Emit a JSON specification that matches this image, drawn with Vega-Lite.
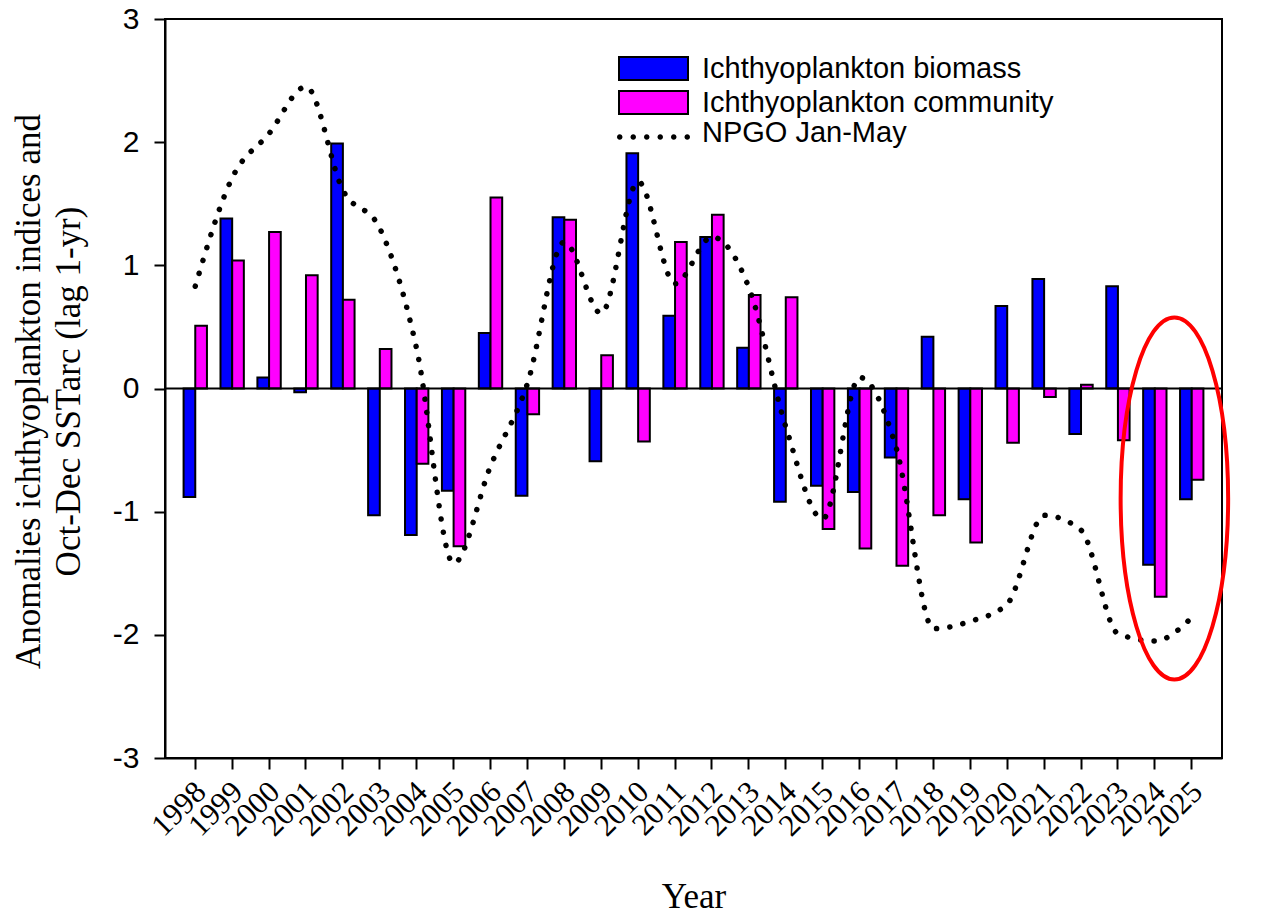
{
  "$schema": "https://vega.github.io/schema/vega-lite/v6.json",
  "width": 1057,
  "height": 739,
  "autosize": {"type": "none"},
  "padding": {"left": 165, "top": 19, "right": 60, "bottom": 165},
  "background": "white",
  "config": {
    "view": {"stroke": "black", "strokeWidth": 2},
    "axis": {"domainColor": "black", "tickColor": "black", "domainWidth": 2, "tickWidth": 2, "tickSize": 11, "labelColor": "black", "titleColor": "black", "grid": false},
    "legend": {"labelFont": "Liberation Sans", "labelFontSize": 29, "labelColor": "black", "labelLimit": 600}
  },
  "datasets": {
    "bars": [
      {"year": 1998, "series": "Ichthyoplankton biomass", "value": -0.88}, {"year": 1998, "series": "Ichthyoplankton community", "value": 0.51},
      {"year": 1999, "series": "Ichthyoplankton biomass", "value": 1.38}, {"year": 1999, "series": "Ichthyoplankton community", "value": 1.04},
      {"year": 2000, "series": "Ichthyoplankton biomass", "value": 0.09}, {"year": 2000, "series": "Ichthyoplankton community", "value": 1.27},
      {"year": 2001, "series": "Ichthyoplankton biomass", "value": -0.03}, {"year": 2001, "series": "Ichthyoplankton community", "value": 0.92},
      {"year": 2002, "series": "Ichthyoplankton biomass", "value": 1.99}, {"year": 2002, "series": "Ichthyoplankton community", "value": 0.72},
      {"year": 2003, "series": "Ichthyoplankton biomass", "value": -1.03}, {"year": 2003, "series": "Ichthyoplankton community", "value": 0.32},
      {"year": 2004, "series": "Ichthyoplankton biomass", "value": -1.19}, {"year": 2004, "series": "Ichthyoplankton community", "value": -0.61},
      {"year": 2005, "series": "Ichthyoplankton biomass", "value": -0.83}, {"year": 2005, "series": "Ichthyoplankton community", "value": -1.28},
      {"year": 2006, "series": "Ichthyoplankton biomass", "value": 0.45}, {"year": 2006, "series": "Ichthyoplankton community", "value": 1.55},
      {"year": 2007, "series": "Ichthyoplankton biomass", "value": -0.87}, {"year": 2007, "series": "Ichthyoplankton community", "value": -0.21},
      {"year": 2008, "series": "Ichthyoplankton biomass", "value": 1.39}, {"year": 2008, "series": "Ichthyoplankton community", "value": 1.37},
      {"year": 2009, "series": "Ichthyoplankton biomass", "value": -0.59}, {"year": 2009, "series": "Ichthyoplankton community", "value": 0.27},
      {"year": 2010, "series": "Ichthyoplankton biomass", "value": 1.91}, {"year": 2010, "series": "Ichthyoplankton community", "value": -0.43},
      {"year": 2011, "series": "Ichthyoplankton biomass", "value": 0.59}, {"year": 2011, "series": "Ichthyoplankton community", "value": 1.19},
      {"year": 2012, "series": "Ichthyoplankton biomass", "value": 1.23}, {"year": 2012, "series": "Ichthyoplankton community", "value": 1.41},
      {"year": 2013, "series": "Ichthyoplankton biomass", "value": 0.33}, {"year": 2013, "series": "Ichthyoplankton community", "value": 0.76},
      {"year": 2014, "series": "Ichthyoplankton biomass", "value": -0.92}, {"year": 2014, "series": "Ichthyoplankton community", "value": 0.74},
      {"year": 2015, "series": "Ichthyoplankton biomass", "value": -0.79}, {"year": 2015, "series": "Ichthyoplankton community", "value": -1.14},
      {"year": 2016, "series": "Ichthyoplankton biomass", "value": -0.84}, {"year": 2016, "series": "Ichthyoplankton community", "value": -1.30},
      {"year": 2017, "series": "Ichthyoplankton biomass", "value": -0.56}, {"year": 2017, "series": "Ichthyoplankton community", "value": -1.44},
      {"year": 2018, "series": "Ichthyoplankton biomass", "value": 0.42}, {"year": 2018, "series": "Ichthyoplankton community", "value": -1.03},
      {"year": 2019, "series": "Ichthyoplankton biomass", "value": -0.90}, {"year": 2019, "series": "Ichthyoplankton community", "value": -1.25},
      {"year": 2020, "series": "Ichthyoplankton biomass", "value": 0.67}, {"year": 2020, "series": "Ichthyoplankton community", "value": -0.44},
      {"year": 2021, "series": "Ichthyoplankton biomass", "value": 0.89}, {"year": 2021, "series": "Ichthyoplankton community", "value": -0.07},
      {"year": 2022, "series": "Ichthyoplankton biomass", "value": -0.37}, {"year": 2022, "series": "Ichthyoplankton community", "value": 0.03},
      {"year": 2023, "series": "Ichthyoplankton biomass", "value": 0.83}, {"year": 2023, "series": "Ichthyoplankton community", "value": -0.42},
      {"year": 2024, "series": "Ichthyoplankton biomass", "value": -1.43}, {"year": 2024, "series": "Ichthyoplankton community", "value": -1.69},
      {"year": 2025, "series": "Ichthyoplankton biomass", "value": -0.90}, {"year": 2025, "series": "Ichthyoplankton community", "value": -0.74}
    ],
    "npgo": [
      {"year": 1998, "npgo": 0.83}, {"year": 1999, "npgo": 1.71}, {"year": 2000, "npgo": 2.07}, {"year": 2001, "npgo": 2.45},
      {"year": 2002, "npgo": 1.61}, {"year": 2003, "npgo": 1.30}, {"year": 2004, "npgo": 0.32}, {"year": 2005, "npgo": -1.42},
      {"year": 2006, "npgo": -0.63}, {"year": 2007, "npgo": 0.04}, {"year": 2008, "npgo": 1.19}, {"year": 2009, "npgo": 0.61},
      {"year": 2010, "npgo": 1.68}, {"year": 2011, "npgo": 0.85}, {"year": 2012, "npgo": 1.23}, {"year": 2013, "npgo": 0.82},
      {"year": 2014, "npgo": -0.31}, {"year": 2015, "npgo": -1.06}, {"year": 2016, "npgo": 0.09}, {"year": 2017, "npgo": -0.49},
      {"year": 2018, "npgo": -1.95}, {"year": 2019, "npgo": -1.89}, {"year": 2020, "npgo": -1.75}, {"year": 2021, "npgo": -1.03},
      {"year": 2022, "npgo": -1.15}, {"year": 2023, "npgo": -1.99}, {"year": 2024, "npgo": -2.05}, {"year": 2025, "npgo": -1.86}
    ],
    "highlight": [{"year": 2025, "value": -0.893}]
  },
  "layer": [
    {
      "data": {"name": "bars"},
      "mark": {"type": "bar", "stroke": "black", "strokeWidth": 2},
      "encoding": {
        "x": {
          "field": "year", "type": "ordinal",
          "scale": {"paddingInner": 0, "paddingOuter": 0.32},
          "axis": {
            "title": "Year",
            "labelAngle": -45, "labelAlign": "right", "labelBaseline": "middle",
            "labelFont": "Liberation Serif", "labelFontSize": 31, "labelPadding": 18, "labelOffset": 6,
            "titleFont": "Liberation Serif", "titleFontSize": 35, "titleFontWeight": "normal",
            "titleX": 528.5, "titleY": 149, "titleBaseline": "alphabetic", "titleAlign": "center"
          }
        },
        "xOffset": {
          "field": "series",
          "scale": {"domain": ["Ichthyoplankton biomass", "Ichthyoplankton community"], "paddingInner": 0, "paddingOuter": 0.58}
        },
        "y": {
          "field": "value", "type": "quantitative",
          "scale": {"domain": [-3, 3], "nice": false, "zero": false},
          "axis": {
            "title": ["Anomalies ichthyoplankton indices and", "Oct-Dec SSTarc (lag 1-yr)"],
            "values": [-3, -2, -1, 0, 1, 2, 3],
            "labelExpr": "'' + datum.value",
            "labelFont": "Liberation Sans", "labelFontSize": 30, "labelPadding": 15,
            "titleFont": "Liberation Serif", "titleFontSize": 35, "titleFontWeight": "normal",
            "titleLineHeight": 40, "titleX": -125.5, "titleY": 372, "titleBaseline": "alphabetic", "titleAlign": "center", "titleAngle": 270
          }
        },
        "color": {
          "field": "series", "type": "nominal",
          "scale": {"domain": ["Ichthyoplankton biomass", "Ichthyoplankton community"], "range": ["#0000ff", "#ff00ff"]},
          "legend": {
            "orient": "none", "legendX": 474, "legendY": 35, "title": null, "padding": 0,
            "labelOffset": 34, "rowPadding": 3,
            "symbolType": "M-3,-1H3V1H-3Z", "symbolSize": 529, "symbolStrokeColor": "black", "symbolStrokeWidth": 2, "symbolOpacity": 1
          }
        }
      }
    },
    {
      "data": {"values": [{}]},
      "mark": {"type": "rule", "stroke": "black", "strokeWidth": 2},
      "encoding": {"y": {"datum": 0}}
    },
    {
      "data": {"name": "npgo"},
      "mark": {"type": "line", "color": "black", "interpolate": "monotone", "strokeCap": "round", "strokeWidth": 5.5},
      "encoding": {
        "x": {"field": "year", "type": "ordinal"},
        "y": {"field": "npgo", "type": "quantitative"},
        "strokeDash": {
          "datum": "NPGO Jan-May",
          "scale": {"domain": ["NPGO Jan-May"], "range": [[0.1, 13.3]]},
          "legend": {
            "orient": "none", "legendX": 474, "legendY": 99, "title": null, "padding": 0,
            "labelOffset": 34,
            "symbolType": "M-3.174,0.4a0.239,0.239 0 1,0 0.478,0a0.239,0.239 0 1,0 -0.478,0ZM-2,0.4a0.239,0.239 0 1,0 0.478,0a0.239,0.239 0 1,0 -0.478,0ZM-0.826,0.4a0.239,0.239 0 1,0 0.478,0a0.239,0.239 0 1,0 -0.478,0ZM0.348,0.4a0.239,0.239 0 1,0 0.478,0a0.239,0.239 0 1,0 -0.478,0ZM1.522,0.4a0.239,0.239 0 1,0 0.478,0a0.239,0.239 0 1,0 -0.478,0ZM2.696,0.4a0.239,0.239 0 1,0 0.478,0a0.239,0.239 0 1,0 -0.478,0Z",
            "symbolSize": 529, "symbolFillColor": "black", "symbolStrokeColor": "black", "symbolStrokeWidth": 0.5, "symbolDash": [1, 0], "symbolOpacity": 1
          }
        }
      }
    },
    {
      "data": {"name": "highlight"},
      "mark": {"type": "point", "shape": "M-0.297,0A0.297,1 0 1,0 0.297,0A0.297,1 0 1,0 -0.297,0Z", "size": 131044, "filled": false, "stroke": "red", "strokeWidth": 4, "opacity": 1},
      "encoding": {
        "x": {"field": "year", "type": "ordinal", "bandPosition": 0.03},
        "y": {"field": "value", "type": "quantitative"}
      }
    }
  ]
}
